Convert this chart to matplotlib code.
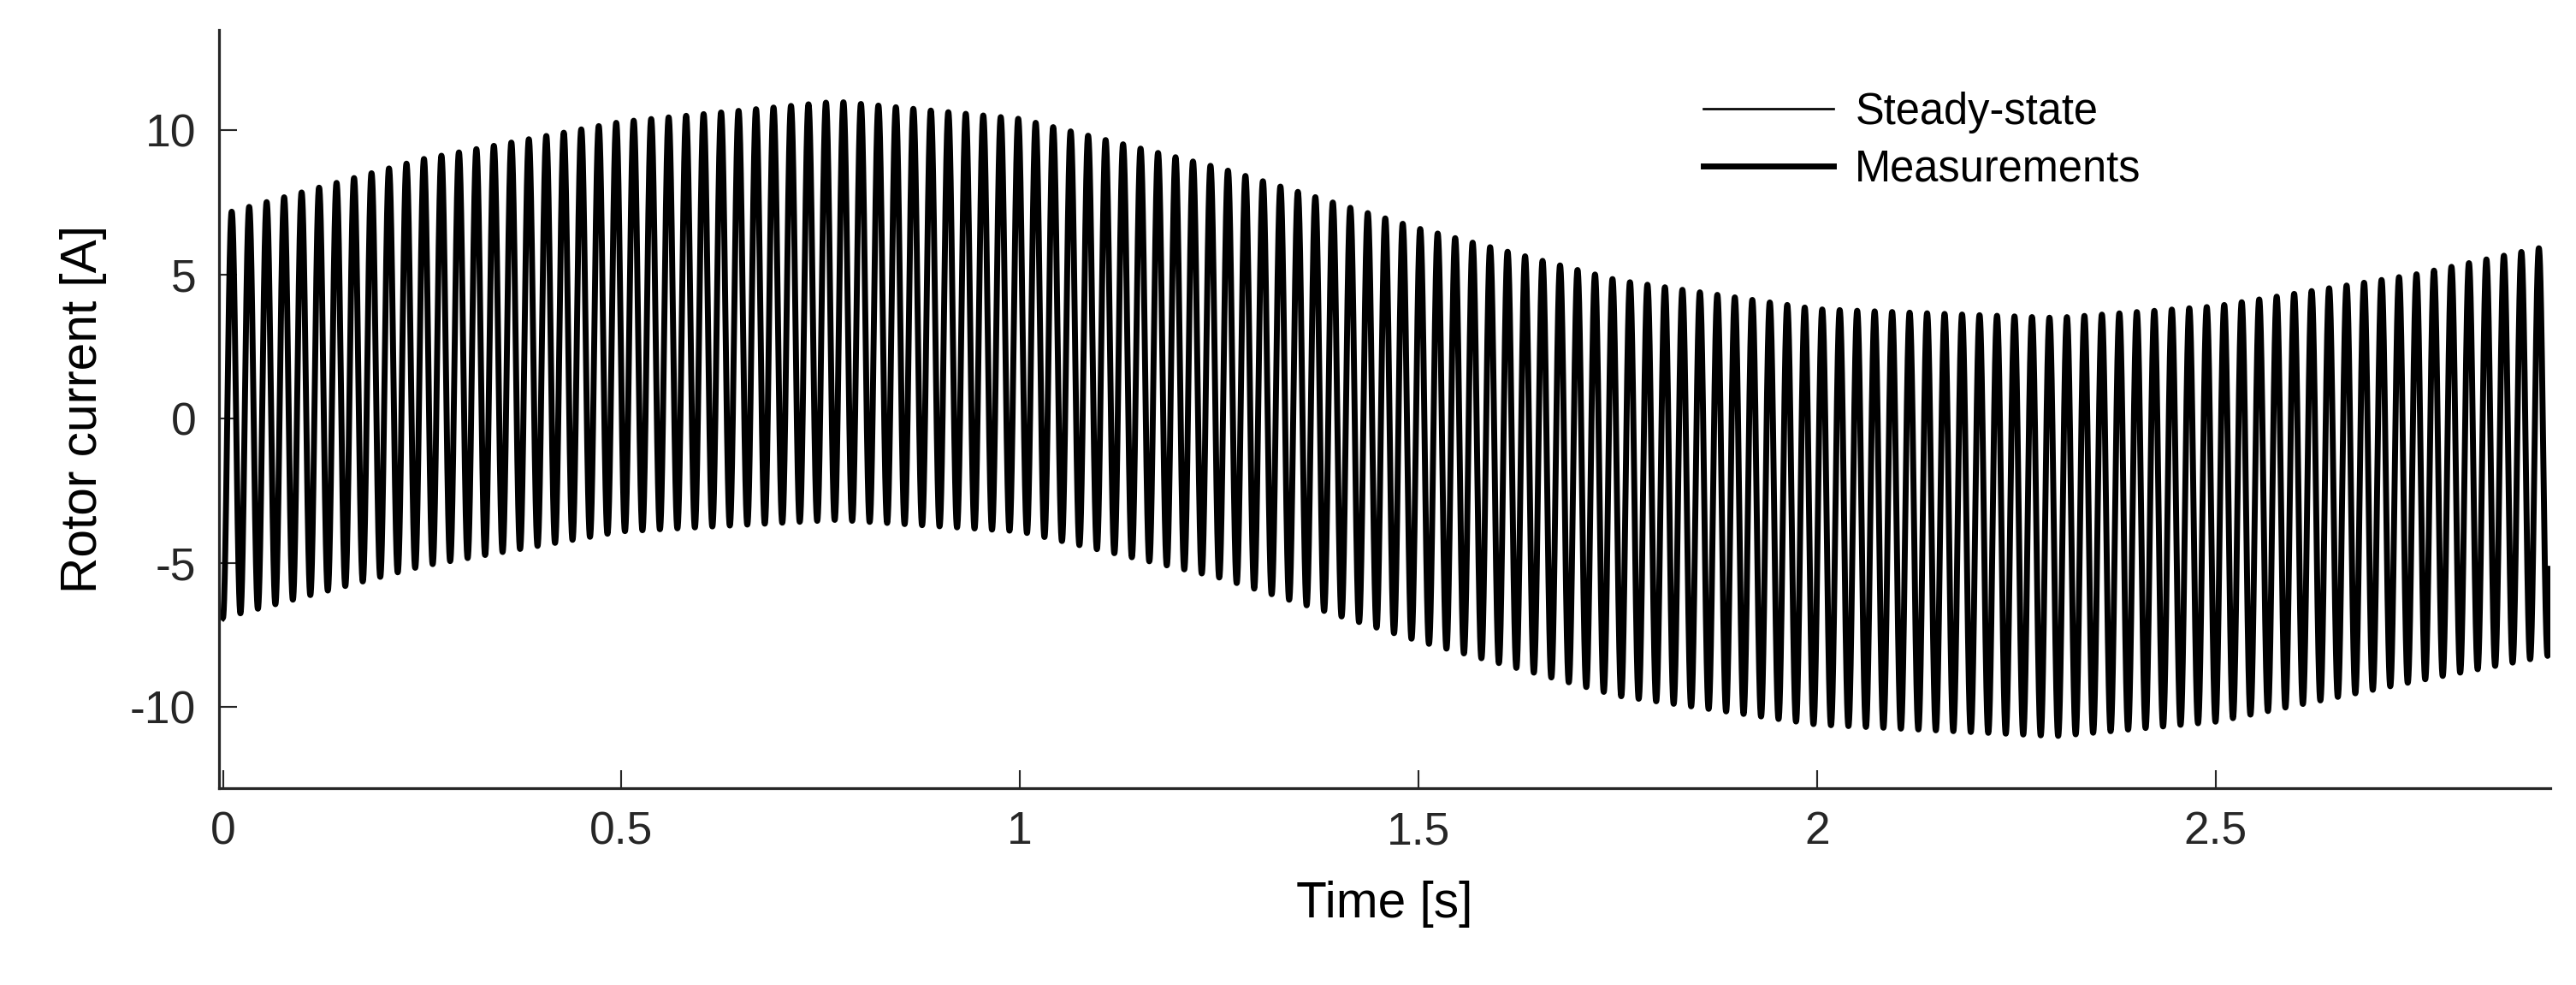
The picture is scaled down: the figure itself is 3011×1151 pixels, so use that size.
import numpy as np
import matplotlib.pyplot as plt

plt.rcParams['font.family'] = ['Liberation Sans', 'DejaVu Sans']
plt.rcParams['axes.unicode_minus'] = False

# envelope of the rotor current (A)
env_t = [0.0, 0.25, 0.5, 0.77, 1.0, 1.25, 1.5, 1.75, 2.0, 2.3, 2.5, 2.75, 2.92]
env_upper = [7.1, 9.0, 10.3, 11.0, 10.4, 8.7, 6.6, 4.8, 3.8, 3.5, 3.9, 5.0, 6.0]
env_lower = [-6.9, -5.1, -3.9, -3.5, -3.9, -5.5, -7.7, -9.6, -10.6, -11.0, -10.5, -9.1, -8.2]
carrier_hz = 45.6

t = np.linspace(0, 2.92, 30000)
up = np.interp(t, env_t, env_upper)
lo = np.interp(t, env_t, env_lower)
mid = (up + lo) / 2
amp = (up - lo) / 2
steady = mid - amp * np.cos(2 * np.pi * carrier_hz * t)
measured = steady.copy()

fig = plt.figure(figsize=(3011 / 192, 1151 / 192), dpi=192)
ax = fig.add_axes([0.085, 0.2, 0.905, 0.77])
ax.plot(t, measured, color='black', lw=2.6, label='Measurements', zorder=2)
ax.plot(t, steady, color='black', lw=1.0, label='Steady-state', zorder=3)

h, l = ax.get_legend_handles_labels()
ax.legend(h[::-1], l[::-1], loc='upper left', bbox_to_anchor=(0.62, 0.97),
          frameon=False, fontsize=19, handlelength=3.0, handletextpad=0.5,
          labelspacing=0.35)

ax.set_xlim(-0.005, 2.92)
ax.set_ylim(-12.8, 13.5)
ax.set_xticks([0, 0.5, 1, 1.5, 2, 2.5])
ax.set_xticklabels(['0', '0.5', '1', '1.5', '2', '2.5'])
ax.set_yticks([-10, -5, 0, 5, 10])
ax.set_xlabel('Time [s]', fontsize=22, labelpad=12)
ax.set_ylabel('Rotor current [A]', fontsize=22, labelpad=10)
ax.tick_params(labelsize=20, direction='in', length=8, color='#262626',
               labelcolor='#262626', pad=10)
for s in ['top', 'right']:
    ax.spines[s].set_visible(False)
for s in ['left', 'bottom']:
    ax.spines[s].set_color('#262626')
    ax.spines[s].set_linewidth(1.2)

fig.savefig('out.png', dpi=192)
